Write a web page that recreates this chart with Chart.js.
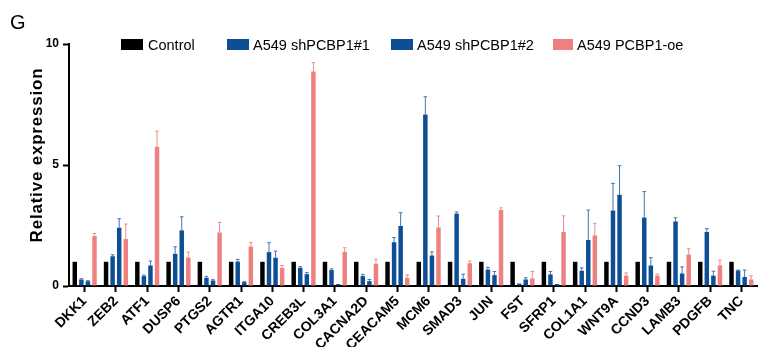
<!DOCTYPE html>
<html>
<head>
<meta charset="utf-8">
<script src="https://cdn.jsdelivr.net/npm/chart.js@4.4.0/dist/chart.umd.min.js"></script>
<style>
    body { margin: 0; background: #fff; }
    #wrap { position: relative; width: 774px; height: 347px; font-family: "Liberation Sans", Arial, sans-serif; color: #000; }
    #chart { position: absolute; left: 0; top: 0; }
    .panel { position: absolute; left: 10px; top: 12px; font-size: 20px; line-height: 1; }
    .box { position: absolute; top: 39px; width: 22px; height: 11px; }
    .lg { position: absolute; top: 38px; font-size: 14.5px; line-height: 1; white-space: nowrap; }
    .ytitle { position: absolute; left: 36px; top: 155px; transform: translate(-50%, -50%) rotate(-90deg);
              font-size: 17px; font-weight: bold; letter-spacing: 0.8px; white-space: nowrap; line-height: 1; }
</style>
</head>
<body>
<div id="wrap">
    <canvas id="chart" width="774" height="347"></canvas>
    <div class="panel">G</div>
    <div class="box" style="left:121px; background:#000;"></div>
    <div class="lg" style="left:148px;">Control</div>
    <div class="box" style="left:227px; background:#0e4e94;"></div>
    <div class="lg" style="left:253px;">A549 shPCBP1#1</div>
    <div class="box" style="left:391px; background:#0e4e94;"></div>
    <div class="lg" style="left:417px;">A549 shPCBP1#2</div>
    <div class="box" style="left:553px; width:20px; background:#f08080;"></div>
    <div class="lg" style="left:577px;">A549 PCBP1-oe</div>
    <div class="ytitle">Relative expression</div>
</div>
<script>
const genes = ["DKK1", "ZEB2", "ATF1", "DUSP6", "PTGS2", "AGTR1", "ITGA10", "CREB3L", "COL3A1", "CACNA2D", "CEACAM5",
               "MCM6", "SMAD3", "JUN", "FST", "SFRP1", "COL1A1", "WNT9A", "CCND3", "LAMB3", "PDGFB", "TNC"];

const control = [1, 1, 1, 1, 1, 1, 1, 1, 1, 1, 1, 1, 1, 1, 1, 1, 1, 1, 1, 1, 1, 1];

const sh1 = [0.27, 1.23, 0.41, 1.33, 0.34, 1.01, 1.40, 0.75, 0.66, 0.41, 1.81,
             7.09, 2.99, 0.68, 0.10, 0.48, 0.63, 3.12, 2.83, 2.67, 2.23, 0.64];
const sh1Err = [0.03, 0.06, 0.04, 0.29, 0.06, 0.09, 0.39, 0.05, 0.05, 0.07, 0.19,
                0.73, 0.07, 0.09, 0, 0.12, 0.12, 1.12, 1.07, 0.15, 0.14, 0.02];

const sh2 = [0.20, 2.41, 0.85, 2.30, 0.23, 0.16, 1.17, 0.49, 0.08, 0.20, 2.48,
             1.26, 0.30, 0.45, 0.27, 0.08, 1.90, 3.77, 0.85, 0.52, 0.43, 0.37];
const sh2Err = [0.02, 0.37, 0.18, 0.56, 0.03, 0.02, 0.27, 0.07, 0, 0.07, 0.55,
                0.15, 0.19, 0.15, 0.07, 0, 1.24, 1.20, 0.32, 0.27, 0.18, 0.29];

const oe = [2.06, 1.94, 5.75, 1.18, 2.21, 1.63, 0.75, 8.86, 1.41, 0.92, 0.34,
            2.42, 0.94, 3.14, 0.31, 2.23, 2.09, 0.43, 0.43, 1.30, 0.85, 0.27];
const oeErr = [0.11, 0.62, 0.65, 0.22, 0.42, 0.17, 0.10, 0.37, 0.17, 0.19, 0.12,
               0.47, 0.09, 0.09, 0.29, 0.67, 0.50, 0.11, 0.06, 0.24, 0.22, 0.15];

const yTicks = [0, 5, 10];

const FONT = "'Liberation Sans', Arial, sans-serif";
const BLUE = "#0e4e94";
const PINK = "#f08080";

// error bars drawn above each bar, using the bar element and the y scale
const errorBars = {
    id: "errorBars",
    afterDatasetsDraw(chart) {
        const ctx = chart.ctx;
        const yScale = chart.scales.y;
        chart.data.datasets.forEach((ds, i) => {
            if (!ds.errors) return;
            const meta = chart.getDatasetMeta(i);
            ctx.save();
            ctx.strokeStyle = ds.errorColor;
            ctx.lineWidth = 1;
            meta.data.forEach((bar, j) => {
                const e = ds.errors[j];
                if (!e) return;
                const top = yScale.getPixelForValue(ds.data[j] + e);
                const half = bar.width * 0.4;
                ctx.beginPath();
                ctx.moveTo(bar.x, bar.y);
                ctx.lineTo(bar.x, top);
                ctx.moveTo(bar.x - half, top);
                ctx.lineTo(bar.x + half, top);
                ctx.stroke();
            });
            ctx.restore();
        });
    }
};

const barOpts = { barPercentage: 0.68, categoryPercentage: 0.84, borderWidth: 0 };

new Chart(document.getElementById("chart").getContext("2d"), {
    type: "bar",
    data: {
        labels: genes,
        datasets: [
            { label: "Control", data: control, backgroundColor: "#000", ...barOpts },
            { label: "A549 shPCBP1#1", data: sh1, errors: sh1Err, errorColor: "#4274b3", backgroundColor: BLUE, ...barOpts },
            { label: "A549 shPCBP1#2", data: sh2, errors: sh2Err, errorColor: "#4274b3", backgroundColor: BLUE, ...barOpts },
            { label: "A549 PCBP1-oe", data: oe, errors: oeErr, errorColor: "#ef8c88", backgroundColor: PINK, ...barOpts }
        ]
    },
    options: {
        responsive: false,
        animation: false,
        devicePixelRatio: 1,
        layout: { padding: { top: 44, right: 17, left: 0, bottom: 0 } },
        plugins: { legend: { display: false }, tooltip: { enabled: false } },
        scales: {
            x: {
                offset: true,
                grid: { drawOnChartArea: false, offset: false, tickLength: 6, tickWidth: 2, color: "#000" },
                border: { display: true, color: "#000", width: 2 },
                ticks: {
                    color: "#000", autoSkip: false, minRotation: 45, maxRotation: 45, padding: 1,
                    font: { family: FONT, weight: "bold", size: 14 }
                },
                afterFit(scale) { scale.height = 61; }
            },
            y: {
                min: 0,
                max: 10,
                afterBuildTicks(scale) { scale.ticks = yTicks.map(v => ({ value: v })); },
                grid: { drawOnChartArea: false, tickLength: 6, tickWidth: 2, color: "#000" },
                border: { display: true, color: "#000", width: 2 },
                ticks: { color: "#000", padding: 4, font: { family: FONT, weight: "bold", size: 12 } },
                afterFit(scale) { scale.width = 69; }
            }
        }
    },
    plugins: [errorBars]
});
</script>
</body>
</html>
